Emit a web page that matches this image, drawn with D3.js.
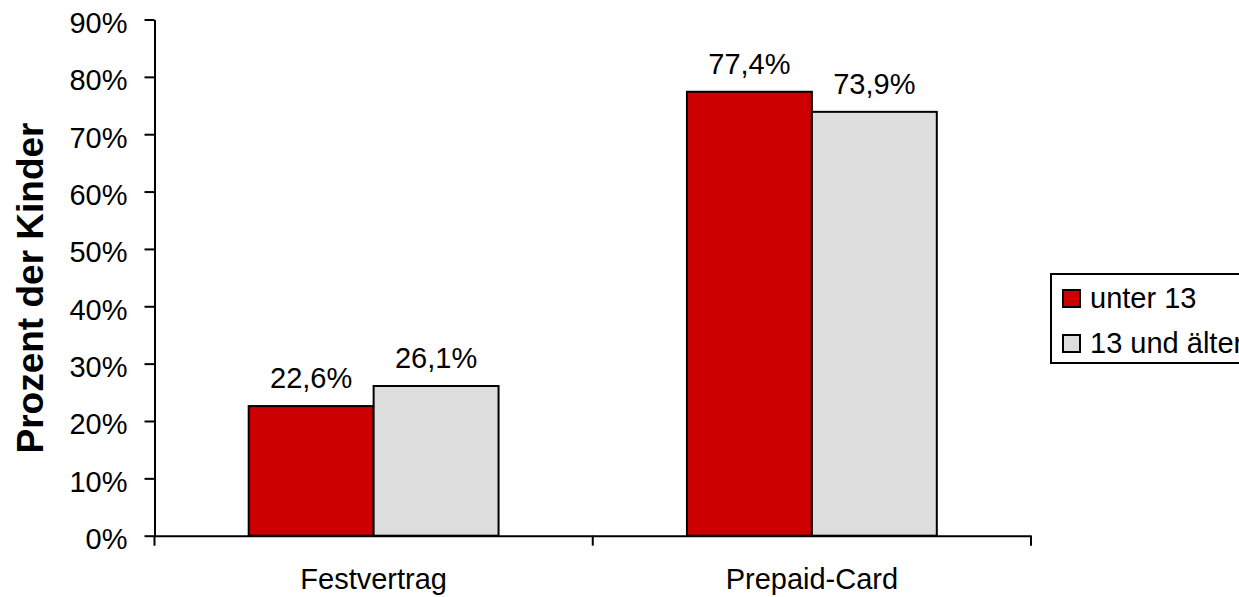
<!DOCTYPE html>
<html>
<head>
<meta charset="utf-8">
<script src="https://cdn.jsdelivr.net/npm/d3@7"></script>
<style>
  html, body { margin: 0; padding: 0; background: #fff; overflow: hidden; }
  svg { display: block; font-family: "Liberation Sans", Arial, sans-serif; }
</style>
</head>
<body>
<svg id="chart" width="1239" height="597"></svg>
<script>
const categories = ["Festvertrag", "Prepaid-Card"];
const seriesNames = ["unter 13", "13 und älter"];
const seriesColors = ["#CC0000", "#DDDDDD"];
const valuesUnter13 = [22.6, 77.4];
const values13UndAelter = [26.1, 73.9];
const yTicks = [0, 10, 20, 30, 40, 50, 60, 70, 80, 90];
const yTitle = "Prozent der Kinder";

const series = [valuesUnter13, values13UndAelter];
const svg = d3.select("#chart");
const fontSize = 29;

const plotLeft = 154.5, plotRight = 1031, plotTop = 19.5, plotBottom = 535.7;

const y = d3.scaleLinear().domain([0, 90]).range([plotBottom, plotTop]);
const x0 = d3.scaleBand().domain(categories).range([plotLeft, plotRight]).padding(0);
const x1 = d3.scaleBand().domain(seriesNames).range([0, x0.bandwidth()]).paddingInner(0).paddingOuter(0.754);

// Bars
const groups = svg.append("g").selectAll("g")
  .data(categories).join("g")
  .attr("transform", d => `translate(${x0(d)},0)`);

groups.selectAll("rect")
  .data((c, ci) => seriesNames.map((s, si) => ({ s, si, v: series[si][ci] })))
  .join("rect")
  .attr("x", d => x1(d.s))
  .attr("width", x1.bandwidth())
  .attr("y", d => y(d.v))
  .attr("height", d => y(0) - y(d.v))
  .attr("fill", d => seriesColors[d.si])
  .attr("stroke", "#000")
  .attr("stroke-width", 2);

groups.selectAll("text.val")
  .data((c, ci) => seriesNames.map((s, si) => ({ s, si, v: series[si][ci] })))
  .join("text")
  .attr("class", "val")
  .attr("x", d => x1(d.s) + x1.bandwidth() / 2)
  .attr("y", d => y(d.v) - 18)
  .attr("text-anchor", "middle")
  .attr("font-size", fontSize)
  .attr("fill", "#000")
  .text(d => d.v.toFixed(1).replace(".", ",") + "%");

// Y axis
const yAxis = d3.axisLeft(y).tickValues(yTicks).tickSize(10).tickSizeOuter(0)
  .tickFormat(d => d + "%");
const gy = svg.append("g").attr("transform", `translate(${plotLeft},0)`).call(yAxis);
gy.select(".domain").attr("stroke", "#000").attr("stroke-width", 2);
gy.selectAll(".tick line").attr("stroke", "#000").attr("stroke-width", 2);
gy.selectAll(".tick text")
  .attr("font-size", fontSize)
  .attr("font-family", "'Liberation Sans', Arial, sans-serif")
  .attr("fill", "#000")
  .attr("x", -27)
  .attr("dy", null)
  .attr("y", 13);

// X axis
const xAxis = d3.axisBottom(x0).tickSize(0).tickSizeOuter(0);
const gx = svg.append("g").attr("transform", `translate(0,${plotBottom})`).call(xAxis);
gx.select(".domain").attr("stroke", "#000").attr("stroke-width", 2);
gx.selectAll(".tick text")
  .attr("font-size", fontSize)
  .attr("font-family", "'Liberation Sans', Arial, sans-serif")
  .attr("fill", "#000")
  .attr("dy", null)
  .attr("y", 53.5);
// category boundary tick marks
const boundaries = categories.map(c => x0(c)).concat([x0(categories[categories.length - 1]) + x0.bandwidth()]);
gx.selectAll("line.bound").data(boundaries).join("line")
  .attr("class", "bound")
  .attr("x1", d => d).attr("x2", d => d)
  .attr("y1", 0).attr("y2", 10)
  .attr("stroke", "#000").attr("stroke-width", 2);

// Y title
svg.append("text")
  .attr("transform", `translate(43,288) rotate(-90)`)
  .attr("text-anchor", "middle")
  .attr("font-size", 37)
  .attr("font-weight", "bold")
  .attr("fill", "#000")
  .text(yTitle);

// Legend
const lg = svg.append("g");
lg.append("rect")
  .attr("x", 1051).attr("y", 274)
  .attr("width", 260).attr("height", 89)
  .attr("fill", "#fff").attr("stroke", "#000").attr("stroke-width", 2);
const items = lg.selectAll("g.item").data(seriesNames).join("g")
  .attr("class", "item")
  .attr("transform", (d, i) => `translate(0,${i * 45})`);
items.append("rect")
  .attr("x", 1063).attr("y", 290)
  .attr("width", 17).attr("height", 17)
  .attr("fill", (d, i) => seriesColors[i])
  .attr("stroke", "#000").attr("stroke-width", 2);
items.append("text")
  .attr("x", 1090).attr("y", 307.5)
  .attr("font-size", fontSize)
  .attr("fill", "#000")
  .text(d => d);
</script>
</body>
</html>
